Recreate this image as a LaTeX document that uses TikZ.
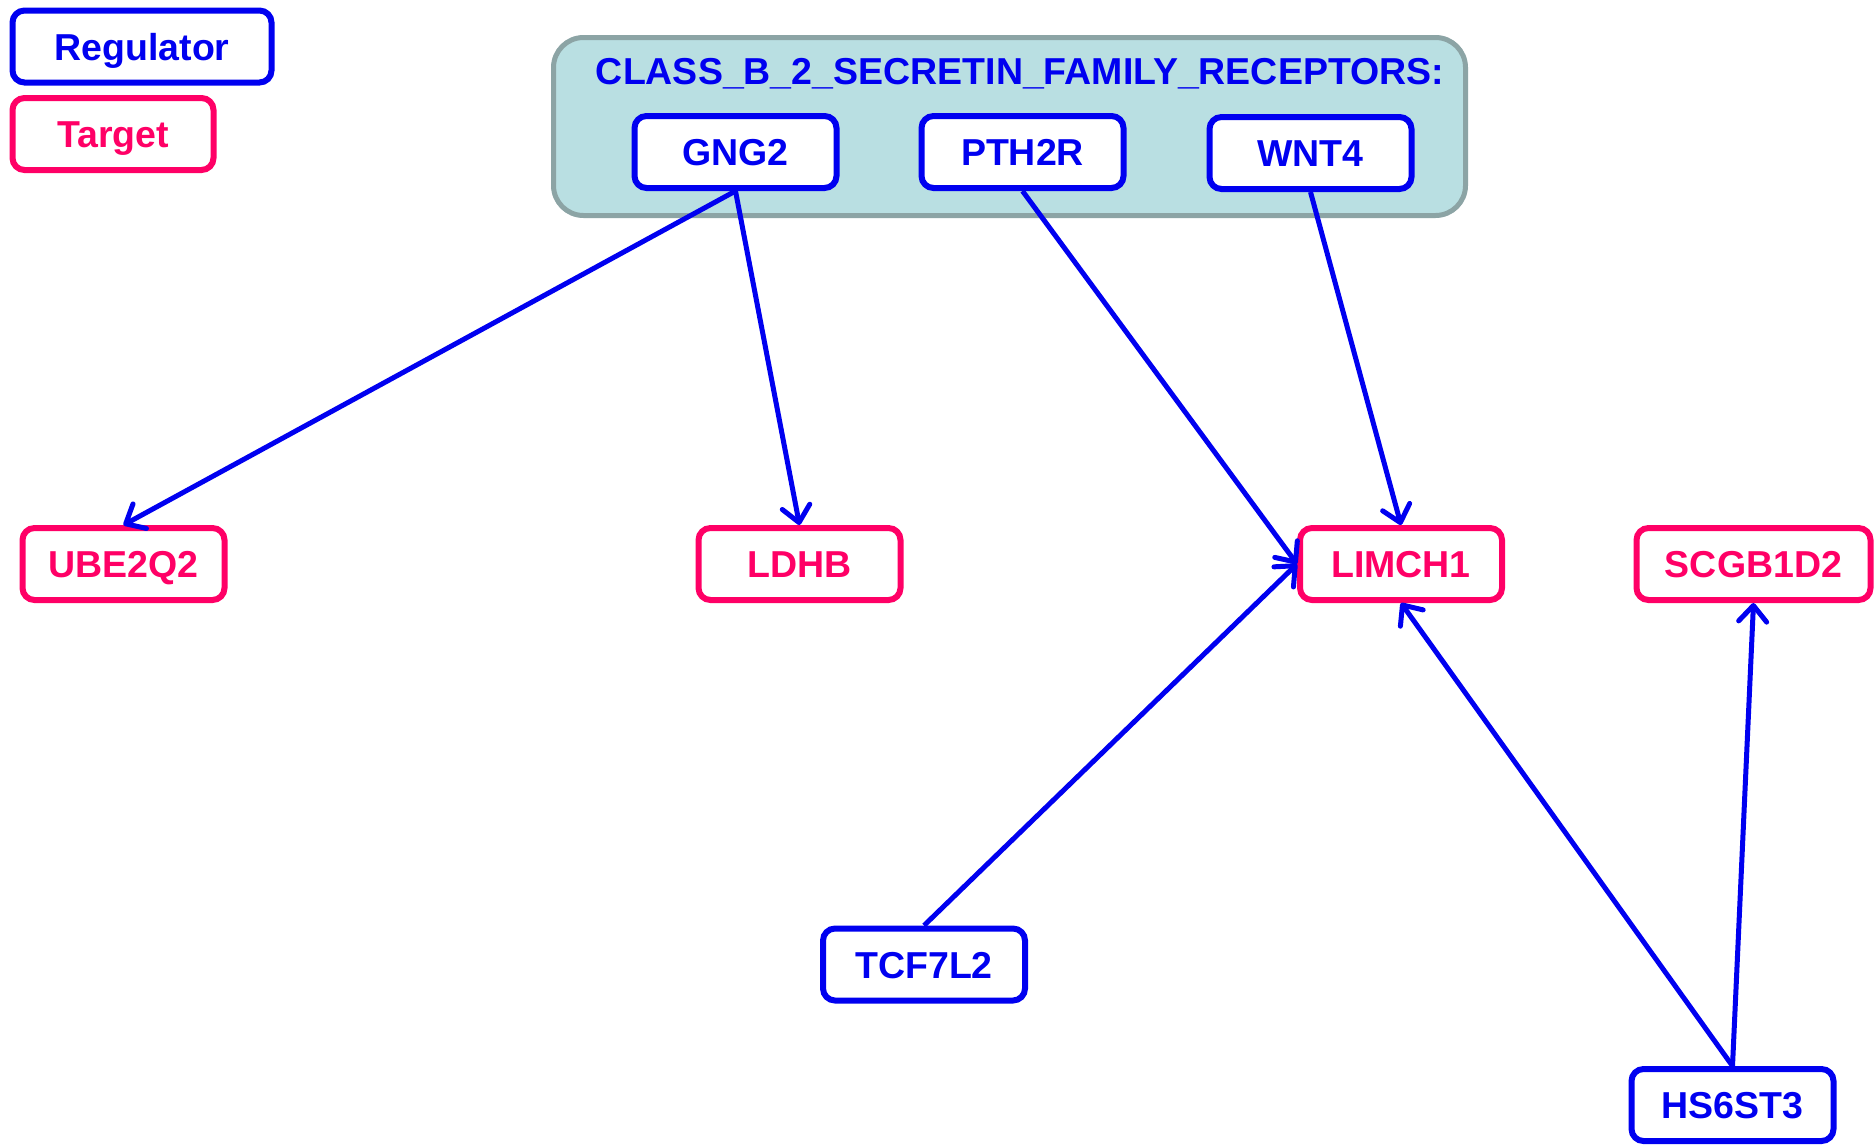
\documentclass[tikz,border=0pt]{standalone}
\usepackage{fontspec}
\setmainfont{Liberation Sans}
\usetikzlibrary{arrows.meta}
\definecolor{regblue}{RGB}{0,0,240}
\definecolor{tgtpink}{RGB}{255,0,102}
\definecolor{grpfill}{RGB}{185,223,226}
\definecolor{grpline}{RGB}{140,164,165}
\begin{document}
\begin{tikzpicture}[x=1pt,y=-1pt,
  every node/.style={font=\fontsize{37.5}{42}\selectfont\bfseries, inner sep=0pt,
    text height=27pt, text depth=0pt},
  regbox/.style={draw=regblue, text=regblue, line width=6pt, rounded corners=12pt,
    fill=white, minimum width=202pt, minimum height=72pt},
  tgtbox/.style={draw=tgtpink, text=tgtpink, line width=6pt, rounded corners=12pt,
    fill=white, minimum width=202pt, minimum height=72pt},
  link/.style={draw=regblue, line width=5pt,
    -{Straight Barb[length=16pt,width=28pt,line width=5pt,round]}}]
\useasboundingbox (0,0) rectangle (1874,1144);
\fill[white] (0,0) rectangle (1874,1144);

% legend
\node[regbox, minimum width=259pt] (legreg) at (142,46.5) {Regulator};
\node[tgtbox, minimum width=201pt] (legtgt) at (113,134) {Target};

% receptor group
\node[draw=grpline, fill=grpfill, line width=5pt, rounded corners=30pt,
  minimum width=912pt, minimum height=178pt] (grp) at (1009.5,126.5) {};
\node[text=regblue] (grptitle) at (1020,71) {CLASS\_B\_2\_SECRETIN\_FAMILY\_RECEPTORS:};
\node[regbox] (gng2) at (735.5,152) {GNG2};
\node[regbox] (pth2r) at (1022.5,152) {PTH2R};
\node[regbox] (wnt4) at (1310.5,153) {WNT4};

% targets
\node[tgtbox] (ube2q2) at (123.5,564) {UBE2Q2};
\node[tgtbox] (ldhb) at (799.5,564) {LDHB};
\node[tgtbox] (limch1) at (1401,564) {LIMCH1};
\node[tgtbox, minimum width=234pt] (scgb1d2) at (1753.5,564) {SCGB1D2};

% other regulators
\node[regbox] (tcf7l2) at (924,964.5) {TCF7L2};
\node[regbox] (hs6st3) at (1732.5,1105) {HS6ST3};

% regulatory links
\draw[link] (gng2.south) -- (ube2q2.north);
\draw[link] (gng2.south) -- (ldhb.north);
\draw[link] (pth2r.south) -- (limch1.west);
\draw[link] (wnt4.south) -- (limch1.north);
\draw[link] (tcf7l2.north) -- (limch1.west);
\draw[link] (hs6st3.north) -- (limch1.south);
\draw[link] (hs6st3.north) -- (scgb1d2.south);
\end{tikzpicture}
\end{document}
